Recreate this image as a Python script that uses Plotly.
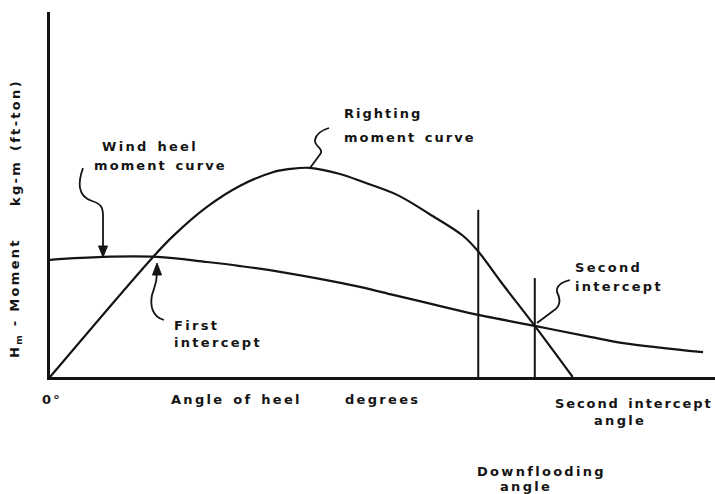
import plotly.graph_objects as go

# ---- data (arbitrary units: angle of heel 0-100, moment 0-100) ----
righting_x = [0, 15.5, 18.5, 23.6, 28.6, 33.5, 36.1, 39.1, 43.6, 47.1, 52.2, 57.1, 62.1, 64.4, 67.7, 72.9, 78.6]
righting_y = [0, 32.9, 38.6, 46.6, 52.4, 56.1, 57.0, 57.3, 55.6, 53.4, 49.9, 44.6, 38.7, 34.4, 26.3, 14.0, 0]
wind_x = [0, 8.0, 16.1, 23.6, 28.6, 34.6, 46.6, 51.6, 56.7, 61.7, 64.4, 72.9, 81.2, 86.2, 98.2]
wind_y = [32.1, 32.9, 32.9, 31.5, 30.4, 28.8, 24.7, 22.5, 20.3, 18.1, 17.0, 14.0, 11.0, 9.3, 6.8]
downflood_angle = 64.4
downflood_top = 45.8
second_angle = 72.9
second_top = 27.1

# ---- layout geometry (pixels) ----
W, H = 715, 494
L, R, T, B = 50, 0, 12, 117
PW, PH = W - L - R, H - T - B
XMAX, YMAX = 100, 100


def dx(px):
    return (px - L) / PW * XMAX


def dy(py):
    return (H - B - py) / PH * YMAX


def qx(px):
    return (px - L) / PW


def qy(py):
    return (H - B - py) / PH


INK = "#141414"
FONT = dict(family="DejaVu Sans", size=13, color=INK, weight="bold")


def spaced(t, ls=2.3, ws=2):
    return '<span style="letter-spacing:%spx;word-spacing:%spx">%s</span>' % (ls, ws, t)


fig = go.Figure()
fig.add_trace(go.Scatter(x=righting_x, y=righting_y, mode="lines",
                         line=dict(color=INK, width=2.2, shape="spline", smoothing=1.0),
                         hoverinfo="skip", showlegend=False))
fig.add_trace(go.Scatter(x=wind_x, y=wind_y, mode="lines",
                         line=dict(color=INK, width=2.2, shape="spline", smoothing=1.0),
                         hoverinfo="skip", showlegend=False))
fig.add_trace(go.Scatter(x=[downflood_angle, downflood_angle], y=[0, downflood_top], mode="lines",
                         line=dict(color=INK, width=2), hoverinfo="skip", showlegend=False))
fig.add_trace(go.Scatter(x=[second_angle, second_angle], y=[0, second_top], mode="lines",
                         line=dict(color=INK, width=2), hoverinfo="skip", showlegend=False))


def path(pts, close=False):
    s = []
    for cmd, ps in pts:
        s.append(cmd + " " + " ".join("%.3f,%.3f" % (dx(a), dy(b)) for a, b in ps))
    if close:
        s.append("Z")
    return " ".join(s)


leaders = [
    # wind heel
    [("M", [(83, 168)]), ("C", [(78, 182), (77, 196), (92, 201)]), ("C", [(101, 204), (103, 207), (103, 216)]), ("L", [(103, 250)])],
    # first intercept
    [("M", [(164, 320)]), ("C", [(152, 317), (150, 305), (152, 295)]), ("C", [(154, 288), (157, 284), (157, 272)])],
    # righting
    [("M", [(310, 168)]), ("L", [(321, 153)]), ("C", [(323, 148), (314, 146), (315, 140)]), ("C", [(316, 134), (322, 130), (329, 128)])],
    # second intercept
    [("M", [(537, 323)]), ("L", [(553, 311)]), ("C", [(563, 305), (559, 296), (557, 292)]), ("C", [(556, 286), (562, 282), (570, 280)])],
    # second intercept angle
    [("M", [(535, 377)]), ("L", [(533, 390)]), ("C", [(531, 399), (532, 404), (546, 404)])],
    # downflooding
    [("M", [(477, 377)]), ("C", [(476, 385), (468, 388), (469, 395)]), ("C", [(470, 402), (472, 405), (469, 413)]),
     ("C", [(465, 425), (458, 440), (459, 452)]), ("C", [(460, 460), (465, 464), (472, 466)])],
]
shapes = [dict(type="path", path=path(p), xref="x", yref="y",
               line=dict(color=INK, width=1.8)) for p in leaders]
# arrowheads
heads = [
    [("M", [(98.5, 246)]), ("L", [(107.5, 246)]), ("L", [(103, 257)])],
    [("M", [(152.5, 275)]), ("L", [(161.5, 275)]), ("L", [(157, 263)])],
]
shapes += [dict(type="path", path=path(p, close=True), xref="x", yref="y",
                fillcolor=INK, line=dict(color=INK, width=1)) for p in heads]

ann = []
labels = [
    ("Righting", 342, 114, 2.0), ("moment curve", 342, 137, 2.0),
    ("Wind heel", 100, 146, 2.3), ("moment curve", 92, 165, 2.1),
    ("First", 172, 325, 2.3), ("intercept", 172, 342, 2.3),
    ("Second", 573, 267, 2.3), ("intercept", 573, 286, 2.3),
    ("Second intercept", 553, 403, 1.9), ("angle", 592, 420, 2.3),
    ("Downflooding", 475, 471, 2.3), ("angle", 498, 486, 2.3),
    ("0°", 40, 399, 2.3), ("Angle of heel", 169, 399, 2.3), ("degrees", 343, 399, 2.3),
]
for t, px, py, ls in labels:
    ann.append(dict(x=qx(px), y=qy(py), xref="paper", yref="paper", text=spaced(t, ls),
                    showarrow=False, xanchor="left", yanchor="middle", font=FONT))

# y-axis title (rotated)
ann.append(dict(x=qx(15), y=qy(298), xref="paper", yref="paper",
                text=spaced("H<sub>m</sub> - Moment", 2.3, 0), textangle=-90,
                showarrow=False, xanchor="center", yanchor="middle", font=FONT))
ann.append(dict(x=qx(15), y=qy(143), xref="paper", yref="paper",
                text=spaced("kg-m (ft-ton)"), textangle=-90,
                showarrow=False, xanchor="center", yanchor="middle", font=FONT))

fig.update_layout(
    width=W, height=H, margin=dict(l=L, r=R, t=T, b=B, pad=0),
    paper_bgcolor="white", plot_bgcolor="white",
    shapes=shapes, annotations=ann,
    xaxis=dict(range=[0, XMAX], showgrid=False, zeroline=False, showticklabels=False,
               ticks="", showline=True, linecolor=INK, linewidth=2.5),
    yaxis=dict(range=[0, YMAX], showgrid=False, zeroline=False, showticklabels=False,
               ticks="", showline=True, linecolor=INK, linewidth=2.5),
)
fig.write_html("out.html", config={"displayModeBar": False},
               post_script="document.body.style.margin='0';document.body.style.overflow='hidden';")
